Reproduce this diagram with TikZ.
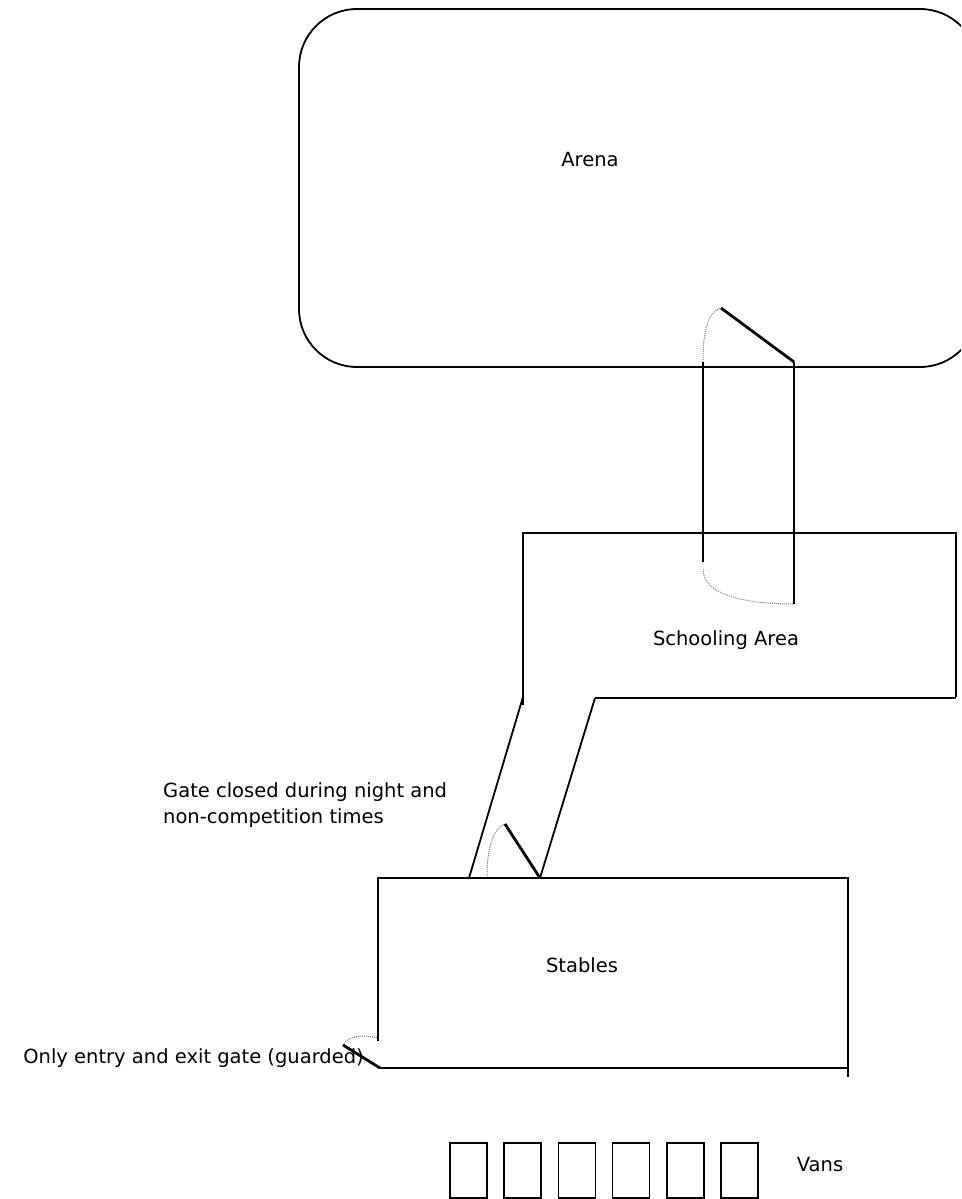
\documentclass[tikz,border=0pt]{standalone}
\usepackage{fontspec}
\setmainfont{DejaVu Sans}
\tikzset{
  wall/.style={line width=1.8pt},
  leaf/.style={line width=2.8pt},
  swing/.style={line width=1pt, densely dotted, gray},
  lbl/.style={font=\fontsize{19.5}{26}\selectfont, inner sep=0pt}
}
\begin{document}
\begin{tikzpicture}[x=1pt, y=-1pt]
            \useasboundingbox (0,0) rectangle (961,1199);
            \clip (0,0) rectangle (961,1199);
            % arena
            \draw [wall, rounded corners=58pt] (299,9) rectangle (978,367);
            \node [lbl] (arena) at (590,160) {Arena};
            \draw [swing] (703,362) .. controls (703,330) and (708,312) .. (721,308);
            \draw [leaf] (721,308) -- (794,362);
            \draw [wall] (703,362) -- (703,562);
            \draw [wall] (794,362) -- (794,562);
            \draw [leaf] (794,562) -- (794,604);
            \draw [swing] (703,569) .. controls (703,598) and (755,604) .. (794,604);
            % schooling area
            \draw [wall] (523,705) -- (523,533) -- (956,533) -- (956,697);
            \draw [wall] (595,698) -- (956,698);
            \node [lbl] (school) at (726,640) {Schooling Area};
            \draw [wall] (523,697) -- (469,878);
            \draw [wall] (595,698) -- (540,878);
            \draw [swing] (487,878) .. controls (487,845) and (494,828) .. (505,824);
            \draw [leaf] (505,824) -- (540,878);
            \node [lbl, align=left, anchor=base west] (note) at (163,823) {Gate closed during night and\\non-competition times};
            % stables
            \draw [wall] (378,1041) -- (378,878) -- (848,878) -- (848,1077);
            \draw [wall] (380,1068) -- (848,1068);
            \node [lbl] (stables) at (582,965) {Stables};
            \draw [swing] (343,1045) .. controls (347,1036) and (364,1034) .. (378,1038);
            \draw [leaf] (343,1045) -- (380,1068);
            \node [lbl, anchor=east] (entry) at (364,1058) {Only entry and exit gate (guarded)};
            % vans
            \foreach \i in {0,...,5}
              \draw [line width=1.5pt] (450+54.2*\i,1143) rectangle ++(37,55);
            \node [lbl] (vans) at (820,1165) {Vans};
\end{tikzpicture}
\end{document}
